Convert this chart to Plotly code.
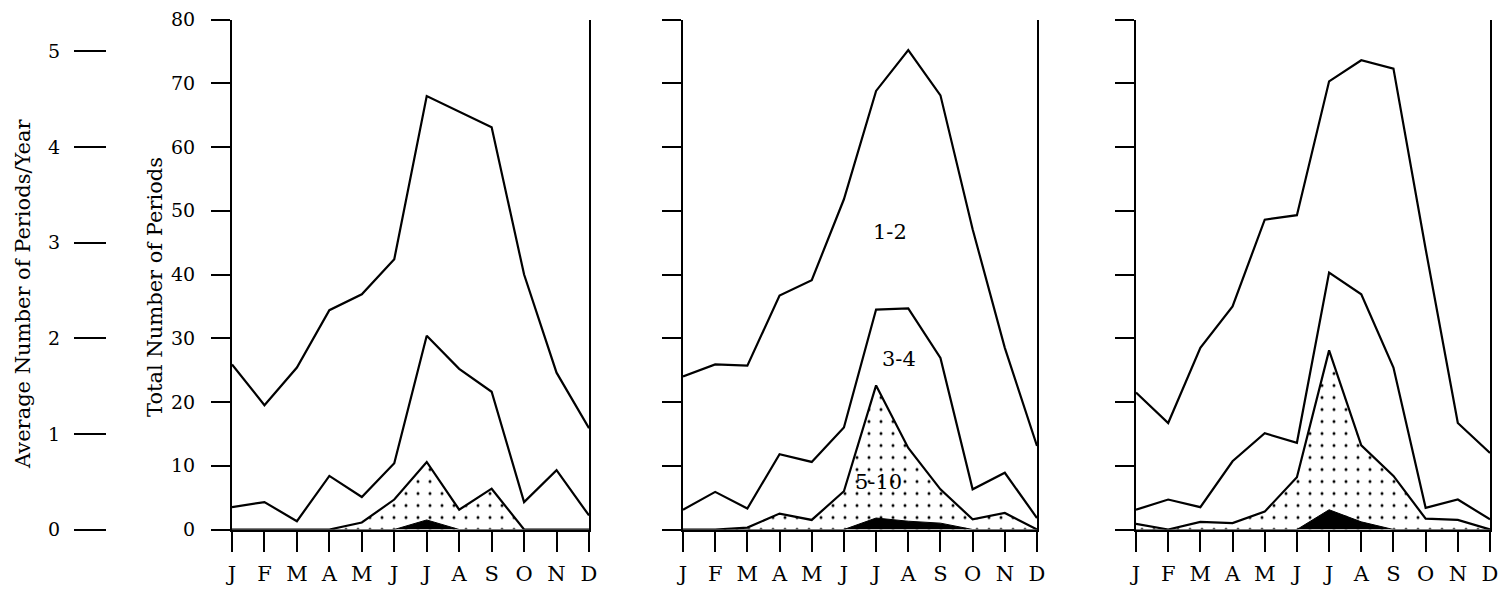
import plotly.graph_objects as go

months = ["J", "F", "M", "A", "M", "J", "J", "A", "S", "O", "N", "D"]

# Panel 1
p1_12 = [25.9, 19.5, 25.4, 34.4, 36.9, 42.4, 68.0, 65.5, 63.1, 40.0, 24.6, 15.9]
p1_34 = [3.5, 4.3, 1.3, 8.4, 5.1, 10.4, 30.4, 25.2, 21.6, 4.3, 9.3, 2.2]
p1_510 = [0, 0, 0, 0, 1.1, 4.7, 10.6, 3.1, 6.4, 0, 0, 0]
p1_gt10 = [0, 0, 0, 0, 0, 0, 1.5, 0, 0, 0, 0, 0]

# Panel 2
p2_12 = [24.0, 25.9, 25.7, 36.7, 39.1, 51.8, 68.8, 75.2, 68.1, 47.1, 28.5, 13.1]
p2_34 = [3.1, 5.9, 3.3, 11.8, 10.6, 16.0, 34.5, 34.7, 26.9, 6.3, 8.9, 1.8]
p2_510 = [0, 0, 0.3, 2.5, 1.5, 6.0, 22.6, 12.8, 6.3, 1.6, 2.6, 0]
p2_gt10 = [0, 0, 0, 0, 0, 0, 1.8, 1.3, 1.0, 0, 0, 0]

# Panel 3
p3_12 = [21.5, 16.7, 28.5, 35.0, 48.6, 49.3, 70.3, 73.6, 72.3, 44.0, 16.7, 12.0]
p3_34 = [3.1, 4.7, 3.5, 10.7, 15.1, 13.6, 40.3, 36.9, 25.4, 3.4, 4.7, 1.6]
p3_510 = [0.9, 0, 1.2, 1.0, 2.8, 8.2, 28.1, 13.2, 8.4, 1.7, 1.5, 0]
p3_gt10 = [0, 0, 0, 0, 0, 0, 3.1, 1.2, 0, 0, 0, 0]

y_ticks = [0, 10, 20, 30, 40, 50, 60, 70, 80]
avg_ticks = [0, 1, 2, 3, 4, 5]
years = 15

band_labels = ["1-2", "3-4", "5-10"]
band_label_x = [6.42, 6.7, 6.06]
band_label_y = [46.6, 26.7, 7.4]

W, H = 1508, 594
FONT = "DejaVu Serif"
x = list(range(12))


def px_x(p):
    return p / W


def px_y(p):
    return 1 - p / H


panels = [
    (p1_12, p1_34, p1_510, p1_gt10),
    (p2_12, p2_34, p2_510, p2_gt10),
    (p3_12, p3_34, p3_510, p3_gt10),
]
x_px = [(232, 589), (683, 1037), (1136, 1490)]
y_bottom_px, y_top_px = 529.5, 19.5
ydom = [px_y(y_bottom_px), px_y(y_top_px)]

LW = 2.2
fig = go.Figure()
for i, (a12, a34, a510, agt) in enumerate(panels):
    xa = "x" if i == 0 else f"x{i+1}"
    ya = "y" if i == 0 else f"y{i+1}"
    fig.add_trace(go.Scatter(
        x=x, y=a510, xaxis=xa, yaxis=ya, mode="lines",
        line=dict(color="black", width=LW), fill="tozeroy",
        fillcolor="white",
        fillpattern=dict(shape=".", fgcolor="black", bgcolor="white",
                         fgopacity=1, size=12, solidity=0.05),
        showlegend=False, hoverinfo="skip"))
    fig.add_trace(go.Scatter(
        x=x, y=agt, xaxis=xa, yaxis=ya, mode="lines",
        line=dict(color="black", width=1), fill="tozeroy",
        fillcolor="black", showlegend=False, hoverinfo="skip"))
    for series in (a34, a12):
        fig.add_trace(go.Scatter(
            x=x, y=series, xaxis=xa, yaxis=ya, mode="lines",
            line=dict(color="black", width=LW),
            showlegend=False, hoverinfo="skip"))

layout = dict(
    template="none",
    width=W, height=H,
    margin=dict(l=0, r=0, t=0, b=0, pad=0, autoexpand=False),
    paper_bgcolor="white", plot_bgcolor="white",
    font=dict(family=FONT, color="black"),
    showlegend=False,
)
for i in range(3):
    xk = "xaxis" if i == 0 else f"xaxis{i+1}"
    yk = "yaxis" if i == 0 else f"yaxis{i+1}"
    x0, x1 = x_px[i]
    layout[xk] = dict(
        domain=[px_x(x0), px_x(x1)], range=[0, 11],
        anchor="y" if i == 0 else f"y{i+1}",
        automargin=False,
        tickmode="array", tickvals=x, ticktext=months,
        ticks="outside", ticklen=20, tickwidth=2, tickcolor="black",
        showline=True, linecolor="black", linewidth=2,
        showgrid=False, zeroline=False,
        tickfont=dict(family=FONT, size=21, color="black"),
        ticklabelstandoff=4,
    )
    layout[yk] = dict(
        domain=ydom, range=[0, 80],
        anchor="x" if i == 0 else f"x{i+1}",
        automargin=False,
        tickmode="array", tickvals=y_ticks,
        ticks="outside", ticklen=19, tickwidth=2, tickcolor="black",
        showline=True, linecolor="black", linewidth=2, mirror=True,
        showgrid=False, zeroline=False,
        showticklabels=(i == 0),
        tickfont=dict(family=FONT, size=19, color="black"),
        ticklabelstandoff=12,
    )
layout["yaxis4"] = dict(
    overlaying="y", anchor="free", position=px_x(106), side="left",
    automargin=False,
    range=[0, 80 / years], tickmode="array", tickvals=avg_ticks,
    ticks="outside", ticklen=32, tickwidth=2, tickcolor="black",
    showline=False, showgrid=False, zeroline=False,
    tickfont=dict(family=FONT, size=19, color="black"),
    ticklabelstandoff=10,
)
fig.update_layout(**layout)

# dummy trace to activate the average axis
fig.add_trace(go.Scatter(x=[None], y=[None], xaxis="x", yaxis="y4",
                         showlegend=False, hoverinfo="skip"))

fig.add_annotation(text="Total Number of Periods", textangle=-90,
                   x=px_x(155), y=px_y(287), xref="paper", yref="paper",
                   xanchor="center", yanchor="middle",
                   showarrow=False, font=dict(family=FONT, size=21, color="black"))
fig.add_annotation(text="Average Number of Periods/Year", textangle=-90,
                   x=px_x(23), y=px_y(294), xref="paper", yref="paper",
                   xanchor="center", yanchor="middle",
                   showarrow=False, font=dict(family=FONT, size=21, color="black"))

for lab, lx, ly in zip(band_labels, band_label_x, band_label_y):
    fig.add_annotation(text=lab, x=lx, y=ly, xref="x2", yref="y2",
                       showarrow=False,
                       font=dict(family=FONT, size=21, color="black"))

fig.write_html("out.html")
